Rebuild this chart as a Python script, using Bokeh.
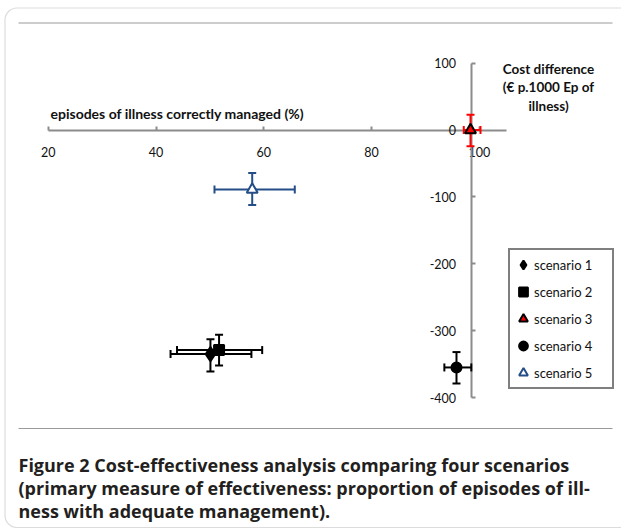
from bokeh.plotting import figure
from bokeh.models import (Range1d, LinearAxis, FixedTicker, ColumnDataSource, Whisker,
                          TeeHead, Legend, LegendItem, Label, BoxAnnotation)
from bokeh.embed import file_html
from bokeh.resources import INLINE

# ---------------- data ----------------
SCENARIOS = ["scenario 1", "scenario 2", "scenario 3", "scenario 4", "scenario 5"]
EFFECT = [50.1, 51.7, 98.35, 95.75, 57.85]          # % episodes correctly managed
EFFECT_LO = [42.7, 43.9, 97.1, 93.5, 50.85]
EFFECT_HI = [57.7, 59.7, 100.2, 98.5, 65.75]
COST = [-335, -329, 0, -355, -89]                    # cost difference (EUR / 1000 ep)
COST_LO = [-361, -352, -24, -379, -112]
COST_HI = [-313, -306, 23, -332, -64]
MARKERS = ["diamond", "square", "triangle", "circle", "triangle"]
FILLS = ["black", "black", "red", "black", "white"]
EDGES = ["black", "black", "black", "black", "#254E88"]
BARS = ["black", "black", "red", "black", "#254E88"]

X_TICKS = [20, 40, 60, 80, 100]
X_TICK_LABELS = ["20", "40", "60", "80", "100"]
Y_TICKS = [100, 0, -100, -200, -300, -400]
Y_TICK_LABELS = ["100", "0", "-100", "-200", "-300", "-400"]
X_TITLE = "episodes of illness correctly managed (%)"
Y_TITLE = ["Cost difference", "(\u20ac p.1000 Ep of", "illness)"]
CAPTION = ["Figure 2 Cost-effectiveness analysis comparing four scenarios",
           "(primary measure of effectiveness: proportion of episodes of ill-",
           "ness with adequate management)."]

# ---------------- layout helpers (canvas pixel -> data) ----------------
def dx(px):
    return 20 + (px - 47.7) / 5.39

def dy(py):
    return (129.6 - py) / 0.6686

W, H = 621, 528
p = figure(width=W, height=H, x_range=Range1d(dx(0), dx(W)), y_range=Range1d(dy(H), dy(0)),
           output_backend="svg", toolbar_location=None, x_axis_location=None, y_axis_location=None,
           min_border=0, outline_line_color=None, background_fill_color="white")
p.grid.visible = False

AX_COL = "#8c8c8c"
TXT_COL = "#111111"
FONT = "Lato"

xaxis = LinearAxis(fixed_location=0, ticker=FixedTicker(ticks=X_TICKS), bounds=(20, 105),
                   major_label_overrides=dict(zip(X_TICKS, X_TICK_LABELS)))
yaxis = LinearAxis(fixed_location=98.46, ticker=FixedTicker(ticks=Y_TICKS), bounds=(-400, 100),
                   major_label_overrides=dict(zip(Y_TICKS, Y_TICK_LABELS)))
for ax in (xaxis, yaxis):
    ax.axis_line_color = AX_COL
    ax.axis_line_width = 2
    ax.major_tick_line_color = AX_COL
    ax.major_tick_line_width = 2
    ax.major_tick_in = 4
    ax.major_tick_out = 0
    ax.minor_tick_in = 0
    ax.minor_tick_out = 0
    ax.major_label_text_font = FONT
    ax.major_label_text_font_size = "12.5px"
    ax.major_label_text_color = TXT_COL
    ax.level = "underlay"
xaxis.major_label_standoff = 17
yaxis.major_label_standoff = 15
p.add_layout(xaxis, "below")
p.add_layout(yaxis, "left")

# ---------------- markers + error bars ----------------
items = []
for i, name in enumerate(SCENARIOS):
    src = ColumnDataSource(dict(x=[EFFECT[i]], y=[COST[i]], xl=[EFFECT_LO[i]], xh=[EFFECT_HI[i]],
                                yl=[COST_LO[i]], yh=[COST_HI[i]]))
    col = BARS[i]
    size = {"diamond": 14, "square": 10, "triangle": 11, "circle": 10}[MARKERS[i]]
    r = p.scatter("x", "y", source=src, marker=MARKERS[i], size=size, fill_color=FILLS[i],
                  line_color=EDGES[i], line_width=2)
    wh = Whisker(source=src, base="y", lower="xl", upper="xh", dimension="width",
                 line_color=col, line_width=2,
                 lower_head=TeeHead(size=8, line_color=col, line_width=2),
                 upper_head=TeeHead(size=8, line_color=col, line_width=2))
    wv = Whisker(source=src, base="x", lower="yl", upper="yh", dimension="height",
                 line_color=col, line_width=2,
                 lower_head=TeeHead(size=8, line_color=col, line_width=2),
                 upper_head=TeeHead(size=8, line_color=col, line_width=2))
    p.add_layout(wh)
    p.add_layout(wv)
    items.append(LegendItem(label=name, renderers=[r]))

legend = Legend(items=items, location=(508, 139), border_line_color="black", border_line_width=2,
                background_fill_color="white", background_fill_alpha=1,
                label_text_font=FONT, label_text_font_size="13px", label_text_color=TXT_COL,
                glyph_width=22, glyph_height=25, label_height=25, label_width=76,
                label_standoff=0, spacing=2, padding=2, margin=0)
p.add_layout(legend)

# ---------------- titles ----------------
p.add_layout(Label(x=dx(50), y=dy(113), text=X_TITLE, text_font=FONT, text_font_style="bold",
                   text_font_size="14px", text_color=TXT_COL, text_baseline="middle", text_align="left"))
for line, py in zip(Y_TITLE, [68, 86.5, 105]):
    p.add_layout(Label(x=dx(548), y=dy(py), text=line, text_font=FONT, text_font_style="bold",
                       text_font_size="13.5px", text_color=TXT_COL, text_baseline="middle",
                       text_align="center"))

# ---------------- figure frame + caption ----------------
p.add_layout(BoxAnnotation(left=dx(4.5), right=dx(700), top=dy(7.5), bottom=dy(527),
                           fill_color=None, line_color="#8a8a8a", line_width=1.2,
                           border_radius=12, level="underlay"))
for py in (22.5, 428):
    p.segment(x0=[dx(18)], y0=[dy(py)], x1=[dx(612)], y1=[dy(py)], line_color="#9a9a9a", line_width=1)

CAP_FONT = "Open Sans"
CAP_COL = "#231f20"
CAP_SIZE = "18px"
for line, py in zip(CAPTION, [464, 487, 510]):
    p.add_layout(Label(x=dx(18), y=dy(py), text=line, text_font=CAP_FONT, text_font_style="bold",
                       text_font_size=CAP_SIZE, text_color=CAP_COL, text_baseline="middle"))

open("out.html", "w").write(file_html(p, INLINE))
